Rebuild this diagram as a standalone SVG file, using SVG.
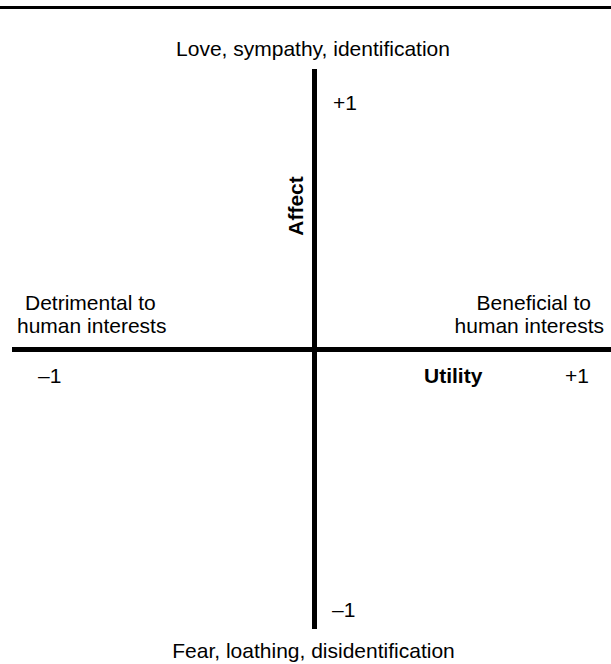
<svg xmlns="http://www.w3.org/2000/svg" width="611" height="664" viewBox="0 0 611 664">
<style>
text{font-family:"Liberation Sans",Arial,sans-serif;font-size:21px;fill:#000}
.b{font-weight:bold}
.ax{stroke:#000;fill:none}
</style>
<rect width="611" height="664" fill="#fff"/>
<line class="ax" x1="0" y1="7.5" x2="611" y2="7.5" stroke-width="3"/>
<g id="connectors">
<line id="affect-axis" class="ax" x1="314.5" y1="69" x2="314.5" y2="629" stroke-width="5"/>
<line id="utility-axis" class="ax" x1="12" y1="349.5" x2="611" y2="349.5" stroke-width="5"/>
</g>
<g id="top-label"><text x="313" y="56" text-anchor="middle">Love, sympathy, identification</text></g>
<g id="affect-plus"><text x="333" y="110">+1</text></g>
<g id="affect-label"><text class="b" transform="translate(303,206) rotate(-90)" text-anchor="middle">Affect</text></g>
<g id="left-label"><text x="25" y="310">Detrimental to</text><text x="17" y="333">human interests</text></g>
<g id="right-label"><text x="591" y="310" text-anchor="end">Beneficial to</text><text x="604" y="333" text-anchor="end">human interests</text></g>
<g id="utility-minus"><text x="38" y="383">–1</text></g>
<g id="utility-label"><text class="b" x="424" y="383">Utility</text></g>
<g id="utility-plus"><text x="565" y="383">+1</text></g>
<g id="affect-minus"><text x="332" y="617">–1</text></g>
<g id="bottom-label"><text x="313.5" y="658" text-anchor="middle">Fear, loathing, disidentification</text></g>
</svg>
